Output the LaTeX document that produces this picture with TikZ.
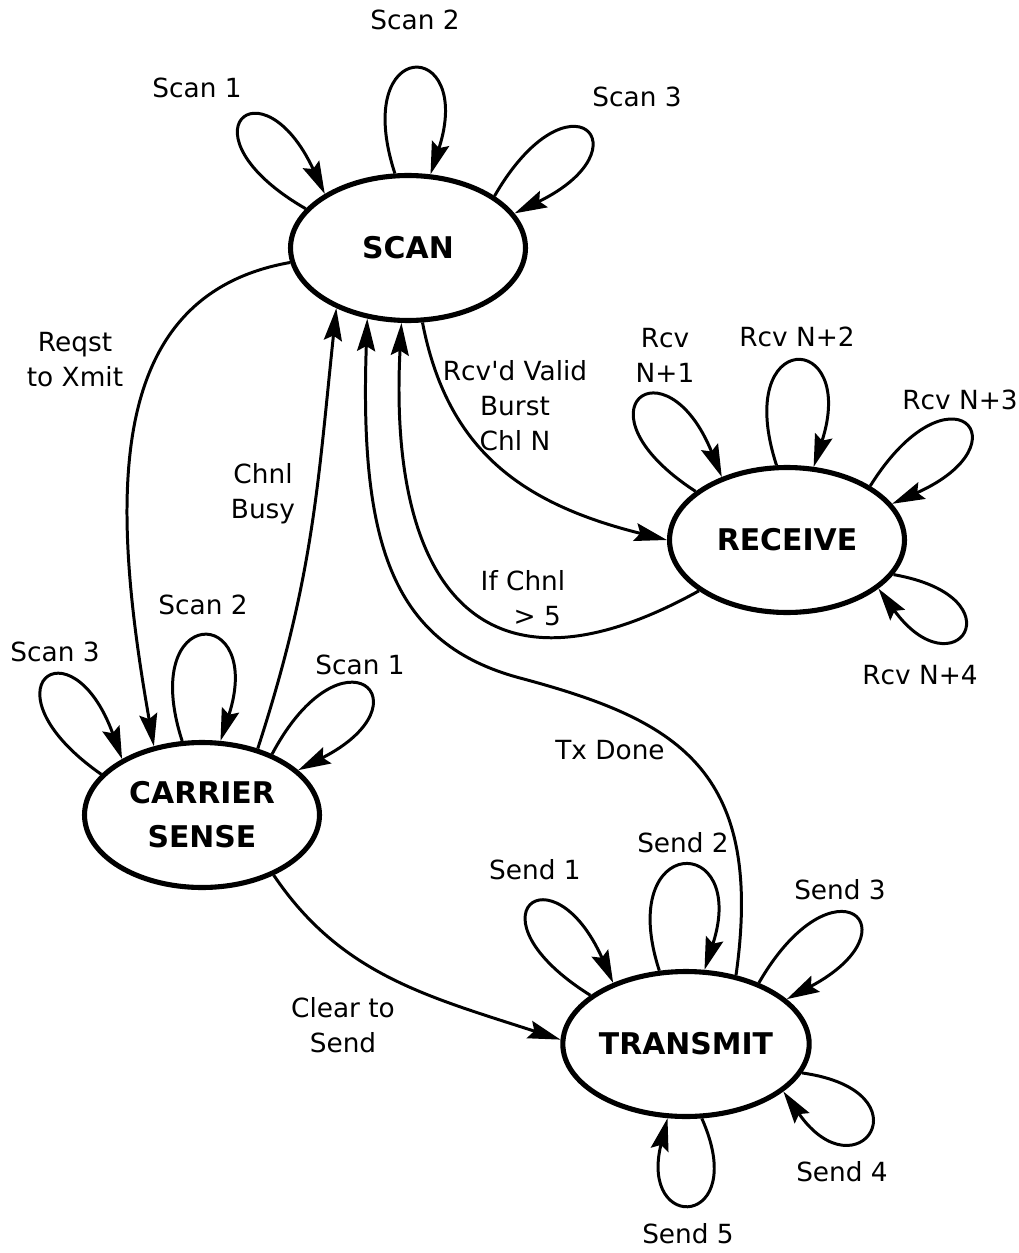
\documentclass[tikz,border=0pt]{standalone}
\usepackage{fontspec}
\setmainfont{DejaVu Sans}
\newfontfamily\lblfont{DejaVu Sans}
\usepackage{tikz}
\usetikzlibrary{arrows.meta,shapes.geometric}
\tikzset{  mode/.style={draw,ellipse,line width=2.9pt,minimum width=4.7cm,minimum height=2.9cm,inner sep=0pt,align=center,font=\lblfont\fontsize{17}{25}\selectfont\bfseries},
  lbl/.style={align=center,font=\lblfont\fontsize{15}{20}\selectfont},
  loopy/.style={distance=3cm},
  uploop/.style={out=108,in=72,distance=2.9cm} }

\begin{document}
\begin{tikzpicture}[->,>={Stealth[length=6.5mm,width=3.6mm,inset=1mm]},line width=1.7pt,x=0.02cm,y=0.02cm]
   \useasboundingbox (0,0) rectangle (1018,-1253);
   \node[mode] (scan) at (408,-248) {SCAN};
   \node[mode] (receive) at (787,-540) {RECEIVE};
   \node[mode] (carrier) at (202,-815) {CARRIER\\SENSE};
   \node[mode] (transmit) at (686,-1044) {TRANSMIT};
   % self loops
   \draw (scan.159) to[out=150,in=115,loopy] (scan.147);
   \draw (scan.100) to[uploop] (scan.73);
   \draw (scan.31) to[out=60,in=26,loopy] (scan.18);
   \draw (receive.152) to[out=147,in=112,loopy] (receive.136);
   \draw (receive.98) to[uploop] (receive.70);
   \draw (receive.33) to[out=58,in=24,loopy] (receive.19);
   \draw (receive.-18) to[out=-10,in=-54,distance=2.6cm] (receive.-28);
   \draw (carrier.158) to[out=145,in=110,loopy] (carrier.145);
   \draw (carrier.105) to[uploop] (carrier.76);
   \draw (carrier.41) to[out=62,in=27,loopy] (carrier.25);
   \draw (transmit.153) to[out=148,in=114,loopy] (transmit.140);
   \draw (transmit.110) to[uploop] (transmit.76);
   \draw (transmit.40) to[out=60,in=28,loopy] (transmit.24);
   \draw (transmit.-14) to[out=-8,in=-55,distance=2.6cm] (transmit.-26);
   \draw (transmit.-78) to[out=-66,in=-104,distance=2.4cm] (transmit.-104);
   % transitions
   \coordinate (txbend) at (520,-678);
   \draw (scan.187) .. controls +(190:190) and +(100:250) .. (carrier.125);
   \draw (carrier.50) .. controls +(72:180) and +(264:180) .. (scan.220);
   \draw (transmit.54) .. controls +(82:210) and +(-15:160) .. (txbend)
      .. controls +(165:130) and +(268:230) .. (scan.240);
   \draw (receive.210) .. controls +(209:260) and +(267:250) .. (scan.265);
   \draw (scan.281) .. controls +(-79:130) and +(166:150) .. (receive.180);
   \draw (carrier.-40) .. controls +(-56:120) and +(162:140) .. (transmit.178);
   % labels
   \node[lbl] (lscana) at (197,-88) {Scan 1};
   \node[lbl] (lscanb) at (415,-20) {Scan 2};
   \node[lbl] (lscanc) at (637,-97) {Scan 3};
   \node[lbl] (lrcva) at (665,-355) {Rcv\\N+1};
   \node[lbl] (lrcvb) at (797,-337) {Rcv N+2};
   \node[lbl] (lrcvc) at (960,-400) {Rcv N+3};
   \node[lbl] (lrcvd) at (920,-675) {Rcv N+4};
   \node[lbl] (lcsc) at (55,-652) {Scan 3};
   \node[lbl] (lcsb) at (203,-605) {Scan 2};
   \node[lbl] (lcsa) at (360,-665) {Scan 1};
   \node[lbl] (lsenda) at (535,-870) {Send 1};
   \node[lbl] (lsendb) at (683,-843) {Send 2};
   \node[lbl] (lsendc) at (840,-890) {Send 3};
   \node[lbl] (lsendd) at (842,-1172) {Send 4};
   \node[lbl] (lsende) at (688,-1234) {Send 5};
   \node[lbl] (lreqst) at (75,-360) {Reqst\\to Xmit};
   \node[lbl] (lbusy) at (263,-494) {Chnl\\Busy};
   \node[lbl] (lvalid) at (515,-406) {Rcv'd Valid\\Burst\\Chl N};
   \node[lbl,align=left] (lgt) at (523,-598) {If Chnl\\\hspace{1.25em}> 5};
   \node[lbl] (ltxdone) at (610,-750) {Tx Done};
   \node[lbl] (lclear) at (343,-1025) {Clear to\\Send};
\end{tikzpicture}
\end{document}
